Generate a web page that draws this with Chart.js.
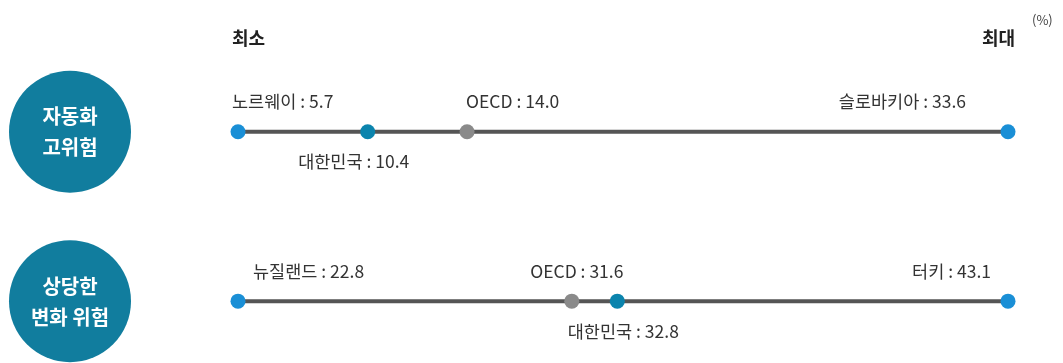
<!DOCTYPE html>
<html lang="ko">
<head>
  <meta charset="UTF-8">
  <title>자동화 위험 범위</title>
  <script src="https://cdn.jsdelivr.net/npm/chart.js"></script>
  <style>
    html, body { margin: 0; padding: 0; background: #fff; }
    #wrap { width: 1063px; height: 363px; }
  </style>
</head>
<body>
  <div id="wrap"><canvas id="rangeChart"></canvas></div>

  <script>
    // 행(범주) 이름
    const rowNames = [['자동화', '고위험'], ['상당한', '변화 위험']];
    // 최소/최대 국가와 값 (%)
    const minCountries = ['노르웨이', '뉴질랜드'];
    const minValues = [5.7, 22.8];
    const maxCountries = ['슬로바키아', '터키'];
    const maxValues = [33.6, 43.1];
    // OECD 평균과 대한민국
    const oecdValues = [14.0, 31.6];
    const koreaValues = [10.4, 32.8];
    const rowY = [1, 2];

    // 라벨 배치 (행별)
    const labelLayout = [
      { min: ['left', -6, -1], korea: ['center', -14, 1], oecd: ['left', -1, -1], max: ['right', -42, -1] },
      { min: ['left', 15, -1], korea: ['center', 6, 1], oecd: ['center', 5, -1], max: ['right', -17, -1] }
    ];

    const FONT = '"Noto Sans CJK KR", "Noto Sans", sans-serif';
    const axisIds = ['x1', 'x2'];

    const datasets = [];
    rowY.forEach((y, i) => {
      const xAxisID = axisIds[i];
      datasets.push({
        kind: 'line', row: i, xAxisID, clip: false,
        data: [{ x: minValues[i], y }, { x: maxValues[i], y }],
        showLine: true, borderColor: '#555555', borderWidth: 4,
        pointRadius: 0, order: 3
      });
      datasets.push({
        kind: 'ends', row: i, xAxisID, clip: false,
        data: [{ x: minValues[i], y, key: 'min' }, { x: maxValues[i], y, key: 'max' }],
        pointRadius: 7.5, pointBackgroundColor: '#1a8fd6', pointBorderWidth: 0, order: 1
      });
      datasets.push({
        kind: 'oecd', row: i, xAxisID, clip: false,
        data: [{ x: oecdValues[i], y, key: 'oecd' }],
        pointRadius: 7.5, pointBackgroundColor: '#8a8a8a', pointBorderWidth: 0, order: 2
      });
      datasets.push({
        kind: 'korea', row: i, xAxisID, clip: false,
        data: [{ x: koreaValues[i], y, key: 'korea' }],
        pointRadius: 7.5, pointBackgroundColor: '#0b84ad', pointBorderWidth: 0, order: 1
      });
    });

    function labelText(row, key) {
      if (key === 'min') return minCountries[row] + ' : ' + minValues[row].toFixed(1);
      if (key === 'max') return maxCountries[row] + ' : ' + maxValues[row].toFixed(1);
      if (key === 'oecd') return 'OECD : ' + oecdValues[row].toFixed(1);
      return '대한민국 : ' + koreaValues[row].toFixed(1);
    }

    const decorPlugin = {
      id: 'decor',
      beforeDatasetsDraw(chart) {
        const ctx = chart.ctx;
        const yScale = chart.scales.y;
        ctx.save();
        rowY.forEach((y, i) => {
          const cy = yScale.getPixelForValue(y);
          ctx.beginPath();
          ctx.arc(70, cy, 61, 0, Math.PI * 2);
          ctx.fillStyle = '#117d9e';
          ctx.fill();
          ctx.fillStyle = '#ffffff';
          ctx.font = 'bold 20px ' + FONT;
          ctx.textAlign = 'center';
          ctx.textBaseline = 'middle';
          ctx.fillText(rowNames[i][0], 70, cy - 15);
          ctx.fillText(rowNames[i][1], 70, cy + 16);
        });
        // 최소 / 최대 헤더
        const area = chart.chartArea;
        ctx.fillStyle = '#222222';
        ctx.font = 'bold 18px ' + FONT;
        ctx.textAlign = 'left';
        ctx.fillText('최소', area.left - 6, 38);
        ctx.textAlign = 'right';
        ctx.fillText('최대', area.right + 7, 38);
        ctx.font = '13px ' + FONT;
        ctx.fillStyle = '#444444';
        ctx.textAlign = 'left';
        ctx.fillText('(%)', 1032, 20);
        ctx.restore();
      },
      afterDatasetsDraw(chart) {
        const ctx = chart.ctx;
        ctx.save();
        ctx.font = '17.5px ' + FONT;
        ctx.fillStyle = '#333333';
        ctx.textBaseline = 'middle';
        chart.data.datasets.forEach((ds, di) => {
          if (ds.kind === 'line') return;
          const meta = chart.getDatasetMeta(di);
          ds.data.forEach((pt, pi) => {
            const el = meta.data[pi];
            const [align, dx, side] = labelLayout[ds.row][pt.key];
            ctx.textAlign = align;
            ctx.fillText(labelText(ds.row, pt.key), el.x + dx, el.y + side * 30);
          });
        });
        ctx.restore();
      }
    };

    new Chart(document.getElementById('rangeChart'), {
      type: 'scatter',
      data: { datasets },
      options: {
        responsive: true,
        maintainAspectRatio: false,
        animation: false,
        layout: { padding: { left: 238, right: 55, top: 64, bottom: 28 } },
        plugins: { legend: { display: false }, tooltip: { enabled: false } },
        scales: {
          x1: { type: 'linear', position: 'bottom', min: minValues[0], max: maxValues[0], display: false },
          x2: { type: 'linear', position: 'bottom', min: minValues[1], max: maxValues[1], display: false },
          y: { type: 'linear', min: 0.6, max: 2.2, reverse: true, display: false }
        }
      },
      plugins: [decorPlugin]
    });
  </script>
</body>
</html>
